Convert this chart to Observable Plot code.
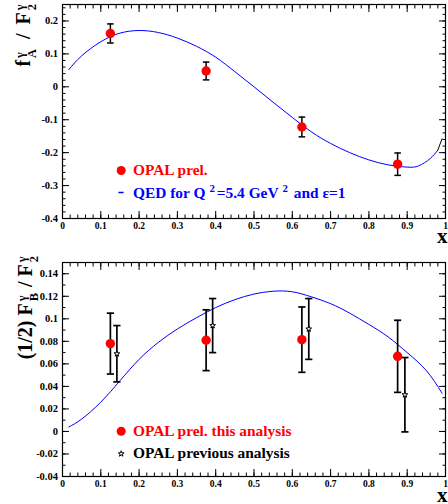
<!DOCTYPE html>
<html>
<head>
<meta charset="utf-8">
<script src="https://cdn.jsdelivr.net/npm/d3@7"></script>
<script src="https://cdn.jsdelivr.net/npm/@observablehq/plot@0.6"></script>
<style>
  body { margin: 0; background: #fff; }
  #wrap { position: relative; width: 448px; height: 504px; overflow: hidden; background: #fff;
          font-family: "Liberation Serif", "Times New Roman", serif; font-weight: bold; }
  #wrap svg { display: block; }
  .ylab { position: absolute; left: 0; top: 0; transform-origin: 0 0; white-space: nowrap;
          font-size: 20px; line-height: 22px; color: #000; }
  .st { display: inline-block; vertical-align: -0.45em; font-size: 0.62em; line-height: 0.95em; text-align: left; margin-left: 2px; margin-right: 1px; }
  .st span { display: block; }
  .sl { display: inline-block; margin: 0 4px; }
  .leg { position: absolute; white-space: nowrap; font-size: 15.4px; line-height: 15.4px; }
  .leg sup { font-size: 0.7em; vertical-align: 0.55em; line-height: 0; margin-left: 4px; margin-right: 2px; }
  .xt { position: absolute; font-size: 21px; line-height: 9px; color: #000; }
</style>
</head>
<body>
<div id="wrap"></div>
<script>
// ---------- axis ticks / labels ----------
const xMajor = [0, 0.1, 0.2, 0.3, 0.4, 0.5, 0.6, 0.7, 0.8, 0.9, 1];
const xMinor = d3.range(0, 1.0001, 0.02);
const topYMajor = [-0.4, -0.3, -0.2, -0.1, 0, 0.1, 0.2];
const topYMinor = d3.range(-0.4, 0.2501, 0.02);
const botYMajor = [-0.04, -0.02, 0, 0.02, 0.04, 0.06, 0.08, 0.1, 0.12, 0.14];
const botYMinor = d3.range(-0.04, 0.1501, 0.01);

// ---------- top panel: f_A / F_2 ----------
const opalX = [0.125, 0.375, 0.625, 0.875];
const fA    = [0.162, 0.048, -0.122, -0.235];
const fAerr = [0.029, 0.027, 0.030, 0.034];

const qedAx = [0.0165, 0.05, 0.10, 0.15, 0.20, 0.25, 0.30, 0.35, 0.40, 0.45, 0.50, 0.55, 0.60, 0.65, 0.70, 0.75, 0.80, 0.85, 0.90, 0.93, 0.96, 0.98];
const qedAy = [0.052, 0.094, 0.137, 0.163, 0.171, 0.165, 0.148, 0.123, 0.090, 0.046, 0.000, -0.047, -0.093, -0.137, -0.172, -0.200, -0.222, -0.237, -0.244, -0.240, -0.218, -0.192];
const qedAtailX = [0.98, 0.991];
const qedAtailY = [-0.192, -0.158];

// ---------- bottom panel: (1/2) F_B / F_2 ----------
const fB    = [0.078, 0.081, 0.0815, 0.0667];
const fBerr = [0.027, 0.027, 0.029, 0.032];
const prevX   = [0.142, 0.392, 0.643, 0.894];
const prevFB  = [0.069, 0.094, 0.091, 0.0326];
const prevErr = [0.025, 0.024, 0.027, 0.033];

const qedBx = [0.0165, 0.05, 0.10, 0.15, 0.20, 0.25, 0.30, 0.35, 0.40, 0.45, 0.50, 0.55, 0.60, 0.65, 0.70, 0.75, 0.80, 0.85, 0.90, 0.95, 0.991];
const qedBy = [0.004, 0.011, 0.026, 0.045, 0.064, 0.079, 0.091, 0.101, 0.110, 0.117, 0.122, 0.1245, 0.124, 0.1195, 0.1135, 0.105, 0.095, 0.084, 0.070, 0.054, 0.034];

// ---------- helpers ----------
const fmt = d => String(d);
const blank = () => "";
const capSymbol = { draw(ctx, size) { const r = Math.sqrt(size / Math.PI); ctx.moveTo(-r, 0); ctx.lineTo(r, 0); } };
const idx = n => d3.range(n);

function frameMarks(yMajor, yMinor) {
  const m = [
    Plot.axisX({ticks: xMajor, anchor: "bottom", tickSize: 0, tickPadding: 4, tickFormat: fmt, label: null, fontSize: 9.5}),
    Plot.axisY({ticks: yMajor, anchor: "left", tickSize: 0, tickPadding: 4.5, tickFormat: fmt, label: null, fontSize: 10.5})
  ];
  for (const a of ["bottom", "top"]) {
    m.push(Plot.axisX({ticks: xMajor, anchor: a, tickSize: -7, tickFormat: blank, label: null}));
    m.push(Plot.axisX({ticks: xMinor, anchor: a, tickSize: -3.5, tickFormat: blank, label: null}));
  }
  for (const a of ["left", "right"]) {
    m.push(Plot.axisY({ticks: yMajor, anchor: a, tickSize: -7, tickFormat: blank, label: null}));
    m.push(Plot.axisY({ticks: yMinor, anchor: a, tickSize: -3.5, tickFormat: blank, label: null}));
  }
  m.push(Plot.frame({stroke: "black", strokeWidth: 1.2}));
  return m;
}

function errorMarks(xs, ys, es, sw, capR) {
  const I = idx(xs.length);
  return [
    Plot.ruleX(I, {x: i => xs[i], y1: i => ys[i] - es[i], y2: i => ys[i] + es[i], stroke: "black", strokeWidth: sw}),
    Plot.dot(I, {x: i => xs[i], y: i => ys[i] - es[i], symbol: capSymbol, r: capR, fill: "none", stroke: "black", strokeWidth: sw}),
    Plot.dot(I, {x: i => xs[i], y: i => ys[i] + es[i], symbol: capSymbol, r: capR, fill: "none", stroke: "black", strokeWidth: sw})
  ];
}

const style = {fontFamily: '"Liberation Serif", "Times New Roman", serif', fontWeight: "bold", fontSize: "10px", color: "black", background: "white", overflow: "visible"};

const topPlot = Plot.plot({
  width: 448, height: 250,
  marginLeft: 62, marginRight: 3, marginTop: 4, marginBottom: 32,
  x: {domain: [0, 1]},
  y: {domain: [-0.4, 0.25]},
  style,
  marks: [
    ...frameMarks(topYMajor, topYMinor),
    Plot.line(idx(qedAx.length), {x: i => qedAx[i], y: i => qedAy[i], stroke: "#0000ff", strokeWidth: 1, curve: "natural"}),
    Plot.line(idx(qedAtailX.length), {x: i => qedAtailX[i], y: i => qedAtailY[i], stroke: "black", strokeWidth: 1}),
    ...errorMarks(opalX, fA, fAerr, 1.5, 3.3),
    Plot.dot(idx(opalX.length), {x: i => opalX[i], y: i => fA[i], r: 4.7, fill: "#ff0000"}),
    // legend markers
    Plot.dot([0], {x: null, y: null, frameAnchor: "top-left", dx: 58.7, dy: 166, r: 4.5, fill: "#ff0000"}),
    Plot.dot([0], {x: null, y: null, frameAnchor: "top-left", dx: 58.5, dy: 188, symbol: capSymbol, r: 2.6, fill: "none", stroke: "#0000ff", strokeWidth: 1.5})
  ]
});

const botPlot = Plot.plot({
  width: 448, height: 254,
  marginLeft: 62, marginRight: 3, marginTop: 12, marginBottom: 28,
  x: {domain: [0, 1]},
  y: {domain: [-0.04, 0.15]},
  style,
  marks: [
    ...frameMarks(botYMajor, botYMinor),
    Plot.line(idx(qedBx.length), {x: i => qedBx[i], y: i => qedBy[i], stroke: "#0000ff", strokeWidth: 1, curve: "natural"}),
    ...errorMarks(opalX, fB, fBerr, 1.7, 3.6),
    ...errorMarks(prevX, prevFB, prevErr, 1.7, 3.6),
    Plot.dot(idx(opalX.length), {x: i => opalX[i], y: i => fB[i], r: 4.7, fill: "#ff0000"}),
    Plot.dot(idx(prevX.length), {x: i => prevX[i], y: i => prevFB[i], symbol: "star", r: 1.8, fill: "white", stroke: "black", strokeWidth: 1}),
    // legend markers
    Plot.dot([0], {x: null, y: null, frameAnchor: "top-left", dx: 58.7, dy: 168.7, r: 4.5, fill: "#ff0000"}),
    Plot.dot([0], {x: null, y: null, frameAnchor: "top-left", dx: 58.7, dy: 191.3, symbol: "star", r: 1.8, fill: "white", stroke: "black", strokeWidth: 1})
  ]
});

const wrap = document.getElementById("wrap");
wrap.appendChild(topPlot);
wrap.appendChild(botPlot);

function addHTML(html) { wrap.insertAdjacentHTML("beforeend", html); }

// y-axis titles (rotated; text end anchored at top)
addHTML(`<div class="ylab" style="transform: translate(25px, 3px) rotate(-90deg) translate(-100%, -50%);">f<span class="st"><span>γ</span><span>A</span></span> <span class="sl">/</span> F<span class="st"><span>γ</span><span>2</span></span></div>`);
addHTML(`<div class="ylab" style="transform: translate(27px, 255px) rotate(-90deg) translate(-100%, -50%);">(1/2) F<span class="st"><span>γ</span><span>B</span></span> / F<span class="st"><span>γ</span><span>2</span></span></div>`);

// x-axis titles
addHTML(`<div class="xt" style="left:437px; top:232px;">x</div>`);
addHTML(`<div class="xt" style="left:437px; top:490.5px;">x</div>`);

// legends
addHTML(`<div class="leg" style="left:133px; top:162.4px; color:#ff0000;">OPAL prel.</div>`);
addHTML(`<div class="leg" style="left:133px; top:185.4px; color:#0000ff;">QED for Q<sup>2</sup>=5.4 GeV<sup>2</sup> and ε=1</div>`);
addHTML(`<div class="leg" style="left:133px; top:423.4px; color:#ff0000;">OPAL prel. this analysis</div>`);
addHTML(`<div class="leg" style="left:133px; top:445.4px; color:#000000;">OPAL previous analysis</div>`);
</script>
</body>
</html>
